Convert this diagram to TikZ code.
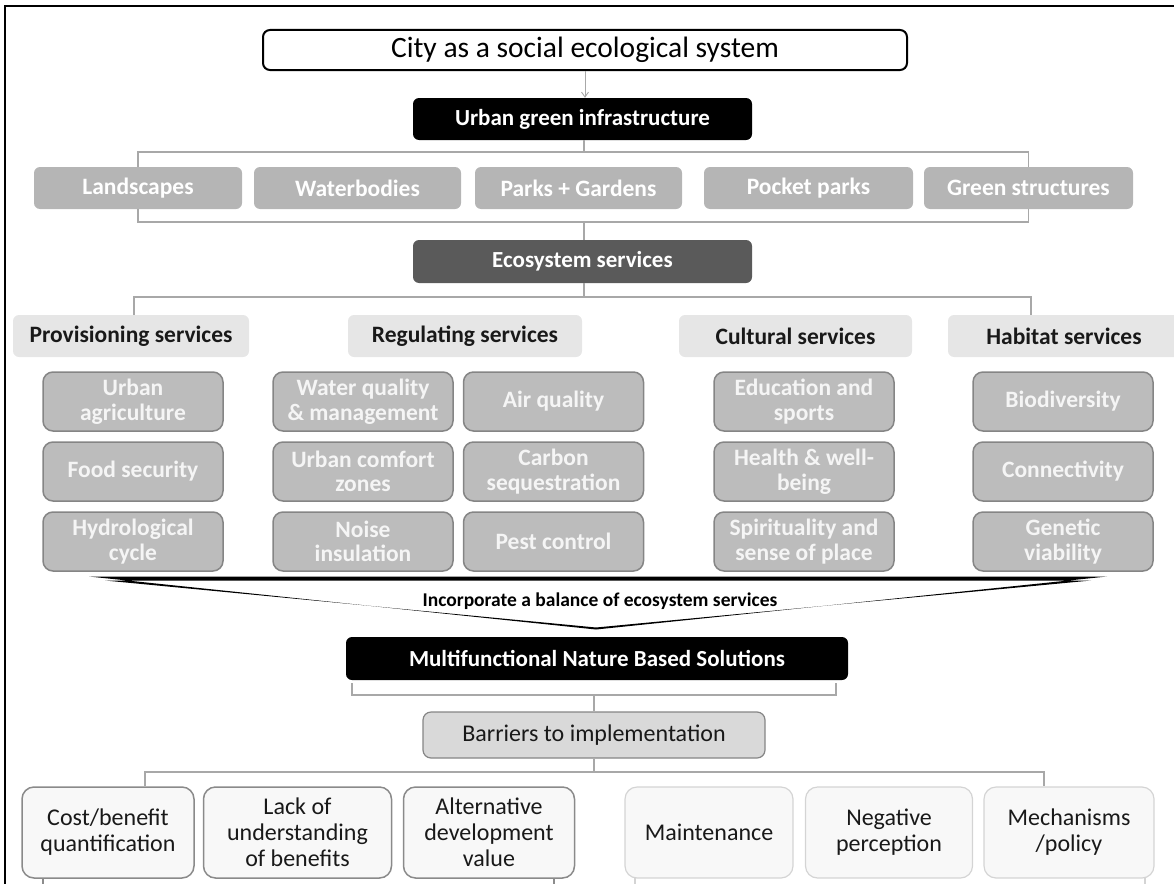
\documentclass[tikz,border=0pt]{standalone}
\usepackage{fontspec}
\setmainfont{Carlito}
\usetikzlibrary{arrows.meta}
\definecolor{rowgrey}{HTML}{B5B5B5}
\definecolor{esgrey}{HTML}{5A5A5A}
\definecolor{hdrgrey}{HTML}{E6E6E6}
\definecolor{itemgrey}{HTML}{BCBCBC}
\definecolor{itemedge}{HTML}{858585}
\definecolor{bargrey}{HTML}{D9D9D9}
\definecolor{botfill}{HTML}{F8F8F8}
\definecolor{botedgeA}{HTML}{8A8A8A}
\definecolor{botedgeB}{HTML}{D4D4D4}
\definecolor{connc}{HTML}{A8A8A8}
\begin{document}
\begin{tikzpicture}[x=1pt,y=-1pt,
  every node/.style={inner sep=0pt, align=center},
  conn/.style={draw=connc, line width=1.2pt},
  topbox/.style={draw=black, line width=2pt, rounded corners=7pt, fill=white,
    font=\fontsize{29.5}{31}\selectfont},
  blackbox/.style={fill=black, rounded corners=6pt, text=white,
    font=\fontsize{23}{25}\selectfont\bfseries},
  esbox/.style={fill=esgrey, rounded corners=6pt, text=white,
    font=\fontsize{23}{25}\selectfont\bfseries},
  rowbox/.style={fill=rowgrey, rounded corners=6pt, text=white,
    font=\fontsize{23.5}{25}\selectfont\bfseries, minimum height=42pt},
  hdrbox/.style={fill=hdrgrey, rounded corners=6pt, text=black!90,
    font=\fontsize{23.5}{25}\selectfont\bfseries, minimum height=42pt},
  itembox/.style={fill=itemgrey, draw=itemedge, line width=1.5pt, rounded corners=10pt,
    text=white!96!black, font=\fontsize{23.5}{24.5}\selectfont\bfseries,
    minimum width=180pt, minimum height=59pt},
  barbox/.style={fill=bargrey, draw=itemedge, line width=1.2pt, rounded corners=8pt,
    text=black!90, font=\fontsize{24}{26}\selectfont},
  botboxA/.style={fill=botfill, draw=botedgeA, line width=1.5pt, rounded corners=12pt,
    text=black!90, font=\fontsize{24}{26}\selectfont, minimum height=91pt},
  botboxB/.style={fill=botfill, draw=botedgeB, line width=1.2pt, rounded corners=12pt,
    text=black!90, font=\fontsize{24}{26}\selectfont, minimum height=91pt},
  lbl/.style={font=\fontsize{19.5}{21}\selectfont\bfseries, text=black}
]
\useasboundingbox (0,0) rectangle (1174,883);
% frame
\draw[line width=2pt] (5,890) -- (5,6) -- (1180,6);

% top
\node[topbox, minimum width=644pt, minimum height=40pt] (city) at (585,50) {City as a social ecological system};
\node[blackbox, minimum width=339pt, minimum height=42pt] (ugi) at (582.5,119) {Urban green infrastructure};
\draw[conn, line width=0.9pt, -{Straight Barb[length=5pt,width=7pt]}] (city.south) -- (city.south |- ugi.north);

% row of UGI types
\node[rowbox, minimum width=208pt] (land) at (138,188) {Landscapes};
\node[rowbox, minimum width=207pt] (water) at (357.5,188) {Waterbodies};
\node[rowbox, minimum width=207pt] (parks) at (578.5,188) {Parks + Gardens};
\node[rowbox, minimum width=209pt] (pocket) at (808.5,188) {Pocket parks};
\node[rowbox, minimum width=209pt] (greens) at (1028.5,188) {Green structures};

\node[esbox, minimum width=339pt, minimum height=43pt] (es) at (582.5,261.5) {Ecosystem services};

% bracket under UGI
\coordinate (b1) at (584,152);
\draw[conn] (ugi.south -| b1) -- (b1);
\draw[conn] (land.north) -- (land.north |- b1) -- (greens.north |- b1) -- (greens.north);
% bracket under row
\coordinate (b2) at (584,222);
\draw[conn] (land.south) -- (land.south |- b2) -- (greens.south |- b2) -- (greens.south);
\draw[conn] (b2) -- (b2 |- es.north);

% headers
\node[hdrbox, minimum width=236pt] (prov) at (131,336) {Provisioning services};
\node[hdrbox, minimum width=234pt] (reg) at (465,336) {Regulating services};
\node[hdrbox, minimum width=233pt] (cult) at (795.5,336) {Cultural services};
\node[hdrbox, minimum width=232pt] (hab) at (1064,336) {Habitat services};

% bracket under ES
\coordinate (b3) at (584,297);
\coordinate (b3l) at (134,297);
\coordinate (b3r) at (1031,297);
\draw[conn] (es.south -| b3) -- (b3);
\draw[conn] (b3l |- prov.north) -- (b3l) -- (b3r) -- (b3r |- hab.north);

% items
\node[itembox] (i11) at (133,401.5) {Urban\\agriculture};
\node[itembox] (i12) at (133,471.5) {Food security};
\node[itembox] (i13) at (133,541.5) {Hydrological\\cycle};
\node[itembox] (i21) at (363,401.5) {Water quality\\\&{} management};
\node[itembox] (i22) at (363,471.5) {Urban comfort\\zones};
\node[itembox] (i23) at (363,541.5) {Noise\\insulation};
\node[itembox] (i31) at (553.5,401.5) {Air quality};
\node[itembox] (i32) at (553.5,471.5) {Carbon\\sequestration};
\node[itembox] (i33) at (553.5,541.5) {Pest control};
\node[itembox] (i41) at (804,401.5) {Education and\\sports};
\node[itembox] (i42) at (804,471.5) {Health \& well-\\being};
\node[itembox] (i43) at (804,541.5) {Spirituality and\\sense of place};
\node[itembox] (i51) at (1063,401.5) {Biodiversity};
\node[itembox] (i52) at (1063,471.5) {Connectivity};
\node[itembox] (i53) at (1063,541.5) {Genetic\\viability};

% funnel
\fill[black, even odd rule] (89,576.5) -- (1107,576.5) -- (596,629.5) -- cycle
  (105,580.5) -- (1091,580.5) -- (596,627.5) -- cycle;
\node[lbl] (bal) at (600,601) {Incorporate a balance of ecosystem services};

% NBS
\node[blackbox, minimum width=502pt, minimum height=43pt] (nbs) at (597,658.5) {Multifunctional Nature Based Solutions};
\node[barbox, minimum width=342pt, minimum height=46pt] (bar) at (594,735) {Barriers to implementation};
\coordinate (b4) at (594,695);
\coordinate (b4l) at (352,695);
\coordinate (b4r) at (836,695);
\draw[conn] (352,683) -- (b4l) -- (b4r) -- (836,683);
\draw[conn] (b4) -- (b4 |- bar.north);

% bottom
\node[botboxA, minimum width=172pt] (cost) at (108,832.5) {Cost/benefit\\quantification};
\node[botboxA, minimum width=188pt] (lack) at (297.5,832.5) {Lack of\\understanding\\of benefits};
\node[botboxA, minimum width=171pt] (alt) at (489,832.5) {Alternative\\development\\value};
\node[botboxB, minimum width=168pt] (maint) at (709,832.5) {Maintenance};
\node[botboxB, minimum width=167pt] (neg) at (889,832.5) {Negative\\perception};
\node[botboxB, minimum width=170pt] (mech) at (1069,832.5) {Mechanisms\\/policy};

\coordinate (b5) at (594,772);
\coordinate (b5l) at (145,772);
\coordinate (b5r) at (1044,772);
\draw[conn] (bar.south -| b5) -- (b5);
\draw[conn] (b5l |- cost.north) -- (b5l) -- (b5r) -- (b5r |- mech.north);

% cut-off stubs below the bottom boxes
\draw[conn, draw=black!45] (43,878) -- (43,890);
\draw[conn, draw=black!45] (554,878) -- (554,890);
\draw[conn, draw=botedgeB] (635,878) -- (635,890);
\draw[conn, draw=botedgeB] (1145,878) -- (1145,890);
\end{tikzpicture}
\end{document}
